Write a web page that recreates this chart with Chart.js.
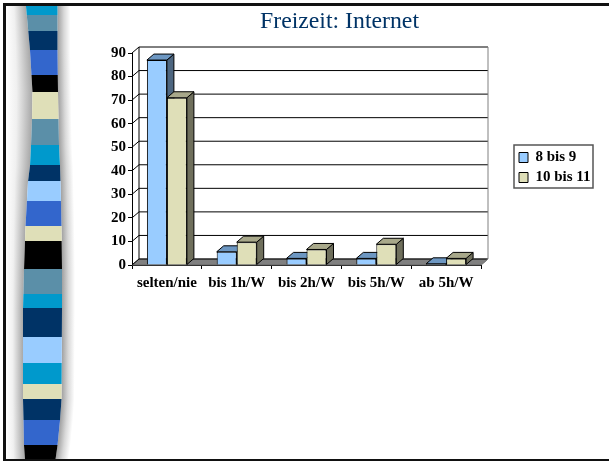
<!DOCTYPE html>
<html>
<head>
<meta charset="utf-8">
<title>Freizeit: Internet</title>
<style>
    html, body { margin: 0; padding: 0; background: #fff; overflow: hidden; }
    canvas { display: block; }
</style>
<script src="https://cdn.jsdelivr.net/npm/chart.js@4/dist/chart.umd.min.js"></script>
</head>
<body>
<canvas id="myChart" width="609" height="461"></canvas>
<script>
const categories = ["selten/nie", "bis 1h/W", "bis 2h/W", "bis 5h/W", "ab 5h/W"];
const seriesNames = ["8 bis 9", "10 bis 11"];
const values8bis9 = [87, 5.6, 2.8, 2.8, 0.5];
const values10bis11 = [71, 9.7, 6.6, 8.8, 2.8];

// decoration on the left of the slide
const stripeEnds = [15, 31, 50, 75, 92, 119, 145, 165, 181, 201, 226, 241, 269, 294, 308, 337, 363, 384, 399, 420, 445, 459];
const stripeColors = ["#0099cc", "#5b8fa8", "#003366", "#3366cc", "#000000", "#dfdfb8", "#5b8fa8", "#0099cc", "#003366", "#99ccff", "#3366cc",
    "#dfdfb8", "#000000", "#5b8fa8", "#0099cc", "#003366", "#99ccff", "#0099cc", "#dfdfb8", "#003366", "#3366cc", "#000000"];
const edgeY = [6, 50, 92, 119, 145, 165, 181, 226, 269, 308, 399, 420, 445, 459];
const edgeLeft = [26, 30, 32.5, 32, 31, 30, 28, 25.5, 24, 23, 23, 23.5, 24, 25];
const edgeRight = [57.5, 57.5, 58, 58.5, 59, 60, 60.5, 61.5, 62, 62, 61.5, 60, 57.5, 55.5];

const depthX = 7;
const depthY = -6;

const edgeAt = (edge, y) => {
    for (let i = 1; i < edgeY.length; i++) {
        if (y <= edgeY[i]) {
            const t = (y - edgeY[i - 1]) / (edgeY[i] - edgeY[i - 1]);
            return edge[i - 1] + (edge[i] - edge[i - 1]) * t;
        }
    }
    return edge[edge.length - 1];
};

const slidePlugin = {
    id: "slide",
    beforeDraw(chart) {
        const ctx = chart.ctx;
        ctx.save();
        ctx.fillStyle = "#ffffff";
        ctx.fillRect(0, 0, chart.width, chart.height);
        let top = 6;
        stripeEnds.forEach((end, i) => {
            for (let y = top; y < end; y++) {
                const l = edgeAt(edgeLeft, y);
                const r = edgeAt(edgeRight, y);
                const left = ctx.createLinearGradient(6, 0, l, 0);
                left.addColorStop(0, "#ffffff");
                left.addColorStop(0.4, "#f0f0f0");
                left.addColorStop(1, "#a8a8a8");
                ctx.fillStyle = left;
                ctx.fillRect(6, y, l - 6, 1);
                const right = ctx.createLinearGradient(r, 0, r + 13, 0);
                right.addColorStop(0, "#a0a0a0");
                right.addColorStop(0.5, "#d8d8d8");
                right.addColorStop(1, "#ffffff");
                ctx.fillStyle = right;
                ctx.fillRect(r, y, 13, 1);
                ctx.fillStyle = stripeColors[i];
                ctx.fillRect(l, y, r - l, 1);
            }
            top = end;
        });
        ctx.fillStyle = "#111111";
        ctx.fillRect(3, 3, chart.width - 3, 3);
        ctx.fillRect(3, 3, 3, 457);
        ctx.fillRect(3, 459, chart.width - 3, 2);
        ctx.restore();
    },
    afterLayout(chart) {
        const title = chart.titleBlock;
        title.left = 260;
        title.right = 419;
        const legend = chart.legend;
        legend.left = 514;
        legend.right = 593;
        legend.top = 145;
        legend.bottom = 200;
    },
    afterDraw(chart) {
        const legend = chart.legend;
        const ctx = chart.ctx;
        ctx.save();
        ctx.strokeStyle = "#555555";
        ctx.lineWidth = 1.5;
        ctx.strokeRect(legend.left, legend.top, legend.right - legend.left, 43);
        ctx.restore();
    },
};

const shade = (ctx, points, fill) => {
    ctx.beginPath();
    points.forEach((p, i) => (i ? ctx.lineTo(p[0], p[1]) : ctx.moveTo(p[0], p[1])));
    ctx.closePath();
    ctx.fillStyle = fill;
    ctx.fill();
    ctx.stroke();
};

const depthPlugin = {
    id: "depth",
    beforeDatasetsDraw(chart) {
        const ctx = chart.ctx;
        const { left, right } = chart.chartArea;
        const y = chart.scales.y;
        ctx.save();
        ctx.lineWidth = 1;
        ctx.strokeStyle = "#000000";

        // floor
        const base = y.getPixelForValue(0);
        ctx.strokeStyle = "#666666";
        shade(ctx, [[left, base], [left + depthX, base + depthY], [right + depthX, base + depthY], [right, base]], "#808080");

        // gridlines on the back and the side wall
        ctx.strokeStyle = "#000000";
        y.ticks.forEach((tick) => {
            const py = y.getPixelForValue(tick.value);
            ctx.beginPath();
            ctx.moveTo(left, py);
            ctx.lineTo(left + depthX, py + depthY);
            ctx.lineTo(right + depthX, py + depthY);
            ctx.stroke();
        });
        const wallTop = y.getPixelForValue(y.max) + depthY;
        ctx.beginPath();
        ctx.moveTo(left + depthX, wallTop);
        ctx.lineTo(left + depthX, base + depthY);
        ctx.stroke();
        ctx.strokeStyle = "#808080";
        ctx.beginPath();
        ctx.moveTo(right + depthX, wallTop);
        ctx.lineTo(right + depthX, base + depthY);
        ctx.lineTo(right, base);
        ctx.stroke();

        // side and top of every bar
        ctx.strokeStyle = "#000000";
        chart.data.datasets.forEach((ds, d) => {
            chart.getDatasetMeta(d).data.forEach((bar) => {
                const x0 = bar.x - bar.width / 2;
                const x1 = bar.x + bar.width / 2;
                shade(ctx, [[x1, bar.y], [x1 + depthX, bar.y + depthY], [x1 + depthX, bar.base + depthY], [x1, bar.base]], ds.sideColor);
                shade(ctx, [[x0, bar.y], [x0 + depthX, bar.y + depthY], [x1 + depthX, bar.y + depthY], [x1, bar.y]], ds.topColor);
            });
        });
        ctx.restore();
    },
};

const tickFont = { family: "'Liberation Serif'", size: 15, weight: "bold" };

new Chart("myChart", {
    type: "bar",
    data: {
        labels: categories,
        datasets: [
            {
                label: seriesNames[0],
                data: values8bis9,
                backgroundColor: "#99ccff",
                borderColor: "#000000",
                borderWidth: 1,
                sideColor: "#4d6680",
                topColor: "#6d97c2",
            },
            {
                label: seriesNames[1],
                data: values10bis11,
                backgroundColor: "#dfdfb8",
                borderColor: "#000000",
                borderWidth: 1,
                sideColor: "#6f6f5c",
                topColor: "#a8a88a",
            },
        ],
    },
    options: {
        responsive: false,
        animation: false,
        layout: { padding: { right: 128 } },
        categoryPercentage: 0.573,
        barPercentage: 1,
        plugins: {
            title: {
                display: true,
                text: "Freizeit: Internet",
                color: "#003366",
                font: { family: "'Liberation Serif'", size: 24, weight: "normal", lineHeight: 1.2 },
                padding: { top: 7, bottom: 17.2 },
            },
            legend: {
                position: "chartArea",
                align: "start",
                labels: {
                    boxWidth: 9,
                    boxHeight: 10,
                    padding: 5,
                    color: "#000000",
                    font: tickFont,
                },
            },
            tooltip: { enabled: false },
        },
        scales: {
            x: {
                offset: true,
                afterFit: (scale) => { scale.height = 196; },
                grid: { offset: true, drawOnChartArea: false, color: "#000000", tickLength: 4 },
                border: { color: "#000000" },
                ticks: { color: "#000000", font: tickFont, padding: 5, maxRotation: 0, autoSkip: false },
            },
            y: {
                min: 0,
                max: 90,
                afterFit: (scale) => { scale.width = 132; },
                grid: { drawOnChartArea: false, color: "#000000", tickLength: 4 },
                border: { color: "#000000" },
                ticks: { color: "#000000", font: tickFont, stepSize: 10, padding: 2 },
            },
        },
    },
    plugins: [slidePlugin, depthPlugin],
});
</script>
</body>
</html>
